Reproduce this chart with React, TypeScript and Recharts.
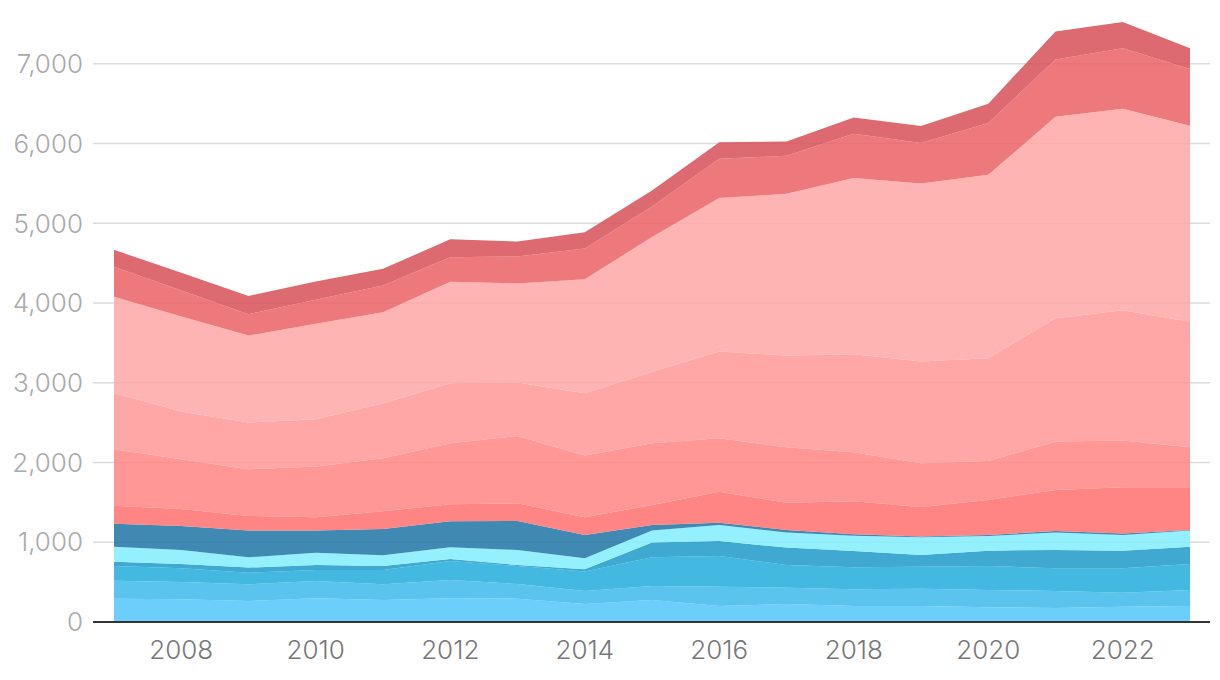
import { Area, AreaChart, CartesianGrid, XAxis, YAxis } from "recharts";

const years = [2007, 2008, 2009, 2010, 2011, 2012, 2013, 2014, 2015, 2016, 2017, 2018, 2019, 2020, 2021, 2022, 2023];

// layers from bottom to top
const layer1 = [292, 285, 263, 297, 276, 297, 293, 226, 276, 201, 226, 201, 201, 184, 176, 192, 201];
const layer2 = [226, 217, 210, 217, 197, 230, 184, 163, 176, 242, 205, 209, 217, 218, 213, 176, 201];
const layer3 = [185, 171, 146, 138, 179, 238, 226, 243, 360, 385, 284, 276, 276, 301, 284, 305, 326];
const layer4 = [54, 55, 63, 63, 51, 25, 12, 29, 184, 188, 218, 205, 147, 192, 230, 222, 217];
const layer5 = [188, 175, 130, 155, 133, 147, 188, 138, 150, 201, 188, 192, 221, 184, 218, 195, 201];
const layer6 = [288, 301, 334, 276, 331, 326, 364, 293, 71, 29, 33, 17, 9, 12, 21, 20, 8];
const layer7 = [226, 214, 184, 167, 223, 213, 222, 221, 251, 389, 343, 414, 372, 440, 515, 580, 536];
const layer8 = [707, 623, 586, 636, 664, 766, 845, 774, 774, 670, 695, 615, 548, 489, 607, 585, 502];
const layer9 = [707, 598, 585, 594, 690, 753, 669, 782, 895, 1087, 1149, 1229, 1275, 1288, 1546, 1636, 1572];
const layer10 = [1205, 1192, 1091, 1196, 1142, 1271, 1242, 1431, 1690, 1924, 2029, 2209, 2233, 2300, 2526, 2525, 2459];
const layer11 = [376, 326, 268, 301, 334, 309, 339, 384, 384, 493, 477, 556, 507, 649, 720, 761, 711];
const layer12 = [213, 224, 230, 230, 209, 226, 188, 205, 199, 209, 179, 204, 213, 242, 351, 327, 263];

const xTicks = [2008, 2010, 2012, 2014, 2016, 2018, 2020, 2022];
const yTicks = [0, 1000, 2000, 3000, 4000, 5000, 6000, 7000];

const layers = [layer1, layer2, layer3, layer4, layer5, layer6, layer7, layer8, layer9, layer10, layer11, layer12];
const colors = [
  "#52c6f9",
  "#3ebaeb",
  "#22addd",
  "#1d9aca",
  "#83edfe",
  "#1d74a6",
  "#ff7070",
  "#ff8585",
  "#ff9696",
  "#ffa7a7",
  "#eb6266",
  "#d65057",
];

const data = years.map((year, i) => {
  const row: Record<string, number> = { year };
  layers.forEach((arr, k) => {
    row[`s${k + 1}`] = arr[i];
  });
  return row;
});

const fontFamily = "Inter, 'Noto Sans', sans-serif";

export default function App() {
  return (
    <div style={{ width: 1204, height: 672 }}>
      <AreaChart
        width={1204}
        height={672}
        data={data}
        margin={{ top: 8, right: 2, bottom: 8, left: 0 }}
      >
        <CartesianGrid
          vertical={false}
          horizontalValues={yTicks}
          stroke="#dcdcdc"
          strokeWidth={1.5}
        />
        <XAxis
          dataKey="year"
          type="number"
          domain={[2007, 2023]}
          ticks={xTicks}
          padding={{ left: 21, right: 20 }}
          height={50}
          tickLine={false}
          tickSize={0}
          tickMargin={19}
          axisLine={{ stroke: "#333", strokeWidth: 2 }}
          tick={{ fill: "#777", fontSize: 26, fontFamily, fontWeight: 300 }}
        />
        <YAxis
          domain={[0, 7600]}
          ticks={yTicks}
          width={85}
          axisLine={false}
          tickLine={false}
          tickSize={0}
          tickMargin={10}
          tickFormatter={(v: number) => v.toLocaleString("en-US")}
          tick={{ fill: "#aaa", fontSize: 26, fontFamily, fontWeight: 300 }}
        />
        {layers.map((_, k) => (
          <Area
            key={k}
            type="linear"
            dataKey={`s${k + 1}`}
            stackId="1"
            stroke="none"
            fill={colors[k]}
            fillOpacity={0.85}
            isAnimationActive={false}
          />
        ))}
      </AreaChart>
    </div>
  );
}
